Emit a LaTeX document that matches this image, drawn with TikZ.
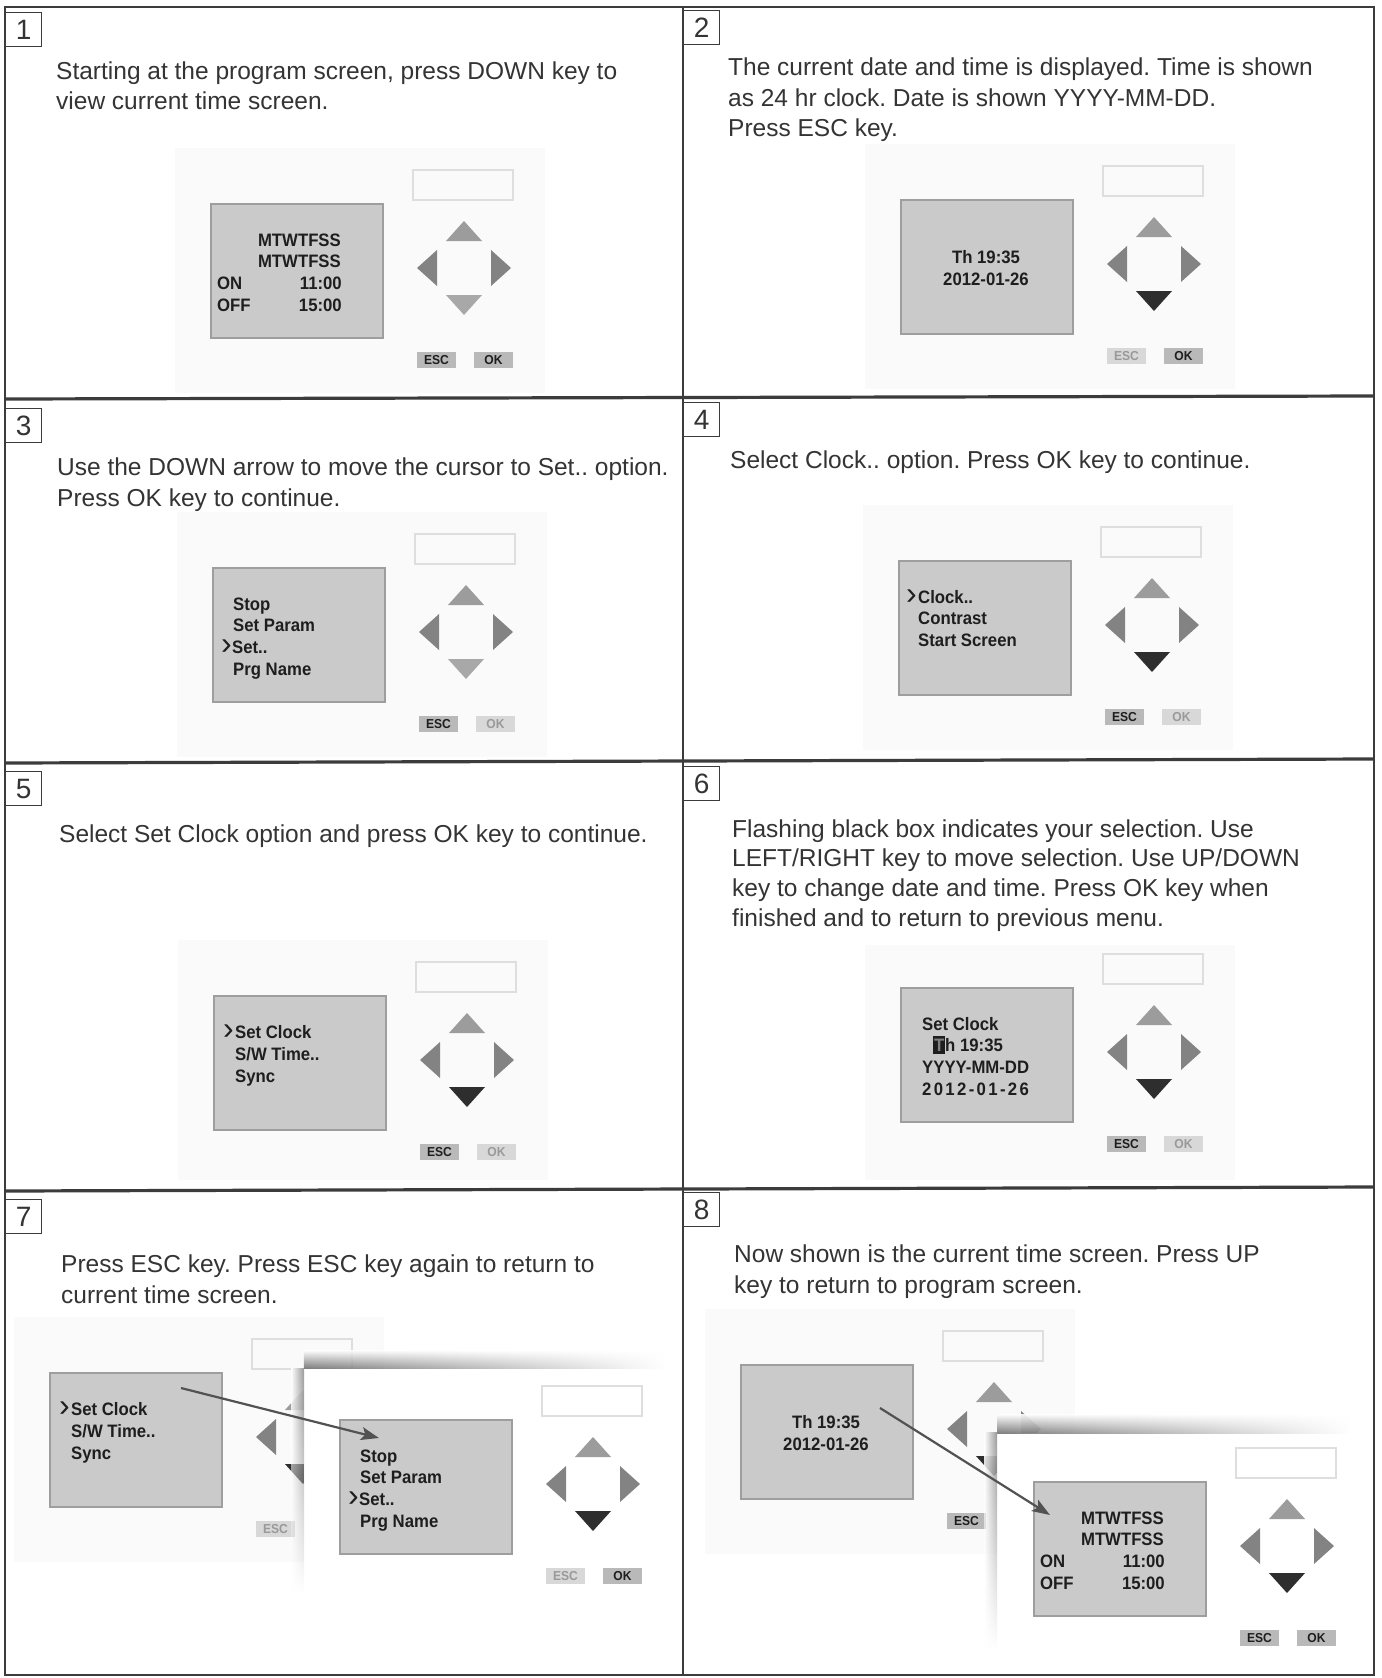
\documentclass[tikz,border=0pt]{standalone}
\usepackage{fontspec}
\setmainfont{Liberation Sans}
\newfontfamily\lcdface[FakeStretch=0.93]{Liberation Sans}
\newfontfamily\lcdspaced[FakeStretch=0.93,LetterSpace=13]{Liberation Sans}
\usetikzlibrary{arrows.meta,fadings}
\frenchspacing

\definecolor{ink}{HTML}{343434}
\definecolor{rule}{HTML}{3C3C3C}
\definecolor{lcdfill}{HTML}{CACACA}
\definecolor{lcdedge}{HTML}{9E9E9E}
\definecolor{lcdink}{HTML}{1E1E1E}
\definecolor{padup}{HTML}{9C9C9C}
\definecolor{padside}{HTML}{838383}
\definecolor{padpale}{HTML}{A8A8A8}
\definecolor{padhot}{HTML}{2E2E2E}
\definecolor{keyfill}{HTML}{B9B9B9}
\definecolor{keypale}{HTML}{D8D8D8}
\definecolor{hazefill}{HTML}{FAFAFA}

\tikzset{
  frame/.style={draw=rule, line width=2.4pt},
  divider/.style={draw=rule, line width=3.2pt},
  numbox/.style={draw=rule, line width=1.3pt, minimum width=36pt, minimum height=34pt,
    inner sep=0pt, anchor=north west, font=\fontsize{28}{28}\selectfont, text=ink},
  caption/.style={anchor=base west, inner sep=0pt, font=\fontsize{24.5}{30}\selectfont, text=ink},
  screen/.style={fill=lcdfill, draw=lcdedge, line width=1.6pt, minimum width=172pt,
    minimum height=134pt, inner sep=0pt, anchor=north west},
  lcdtext/.style={inner sep=0pt, text=lcdink, font={\lcdface\bfseries\fontsize{18}{18}\selectfont}},
  chevron/.style={inner sep=0pt, text=lcdink, anchor=base west, font=\fontsize{32}{32}\selectfont},
  key/.style={minimum width=39pt, minimum height=16pt, inner sep=0pt, fill=keyfill, text=lcdink,
    font={\lcdface\bfseries\fontsize{13}{13}\selectfont}},
  keyon/.style={},
  keyoff/.style={fill=keypale, text=black!40},
  bar/.style={draw=black!13, line width=1.2pt},
  pointer/.style={draw=black!68, line width=2.2pt, -{Stealth[length=18pt,width=13pt,inset=4pt]}},
}

% controller: #1 name, #2/#3 top-left of the display, #4 colour of the down key,
% #5/#6 look of the ESC and OK keys
\newcommand\controller[6]{%
  \begin{scope}[shift={(#2,#3)}]
    \draw[bar] (203,-33) rectangle (303,-3);
    \node[screen] (#1) at (0,0) {};
    \fill[padup] (236,38) -- (272,38) -- (254,18) -- cycle;
    \fill[padside] (227,47) -- (227,83) -- (207,65) -- cycle;
    \fill[padside] (281,47) -- (281,83) -- (301,65) -- cycle;
    \fill[#4] (236,92) -- (272,92) -- (254,112) -- cycle;
    \node[key,#5] (#1-esc) at (226.5,157) {ESC};
    \node[key,#6] (#1-ok) at (283.5,157) {OK};
  \end{scope}}

% program screen with switching days and times
\newcommand\weekscreen[3]{%
  \begin{scope}[shift={(#2,#3)}]
    \node[lcdtext,anchor=base east] (#1d1) at (131,43.5) {MTWTFSS};
    \node[lcdtext,anchor=base east] (#1d2) at (131,64.5) {MTWTFSS};
    \node[lcdtext,anchor=base west] (#1on) at (7,86.5) {ON};
    \node[lcdtext,anchor=base east] (#1ont) at (132,86.5) {11:00};
    \node[lcdtext,anchor=base west] (#1off) at (7,108.5) {OFF};
    \node[lcdtext,anchor=base east] (#1offt) at (132,108.5) {15:00};
  \end{scope}}

% current time screen
\newcommand\clockscreen[3]{%
  \begin{scope}[shift={(#2,#3)}]
    \node[lcdtext,anchor=base] (#1t) at (86,64.5) {Th 19:35};
    \node[lcdtext,anchor=base] (#1d) at (86,86.5) {2012-01-26};
  \end{scope}}

% main menu with the cursor on Set..
\newcommand\mainmenu[3]{%
  \begin{scope}[shift={(#2,#3)}]
    \node[lcdtext,anchor=base west] (#1a) at (21,43.5) {Stop};
    \node[lcdtext,anchor=base west] (#1b) at (21,64.5) {Set Param};
    \node[chevron] (#1c) at (9,87.5) {›};
    \node[lcdtext,anchor=base west] (#1s) at (20,86.5) {Set..};
    \node[lcdtext,anchor=base west] (#1d) at (21,108.5) {Prg Name};
  \end{scope}}

% clock menu with the cursor on Set Clock
\newcommand\clockmenu[3]{%
  \begin{scope}[shift={(#2,#3)}]
    \node[chevron] (#1c) at (10,44.5) {›};
    \node[lcdtext,anchor=base west] (#1a) at (22,43.5) {Set Clock};
    \node[lcdtext,anchor=base west] (#1b) at (22,65.5) {S/W Time..};
    \node[lcdtext,anchor=base west] (#1s) at (22,87.5) {Sync};
  \end{scope}}

\begin{document}
\begin{tikzpicture}[x=1pt,y=-1pt]
\useasboundingbox (0,0) rectangle (1381,1678);
\fill[white] (0,0) rectangle (1381,1678);

% ---------------- step 1
\node[numbox] (n1) at (5,12) {1};
\node[caption] (c1a) at (56,79) {Starting at the program screen, press DOWN key to};
\node[caption] (c1b) at (56,109) {view current time screen.};
\fill[hazefill] (175,148) rectangle (545,393);
\controller{s1}{210}{203}{padpale}{keyon}{keyon}
\weekscreen{s1w}{210}{203}

% ---------------- step 2
\node[numbox] (n2) at (683,10) {2};
\node[caption] (c2a) at (728,75) {The current date and time is displayed. Time is shown};
\node[caption] (c2b) at (728,106) {as 24 hr clock. Date is shown YYYY-MM-DD.};
\node[caption] (c2c) at (728,136) {Press ESC key.};
\fill[hazefill] (865,144) rectangle (1235,389);
\controller{s2}{900}{199}{padhot}{keyoff}{keyon}
\clockscreen{s2c}{900}{199}

% ---------------- step 3
\node[numbox] (n3) at (5,408) {3};
\node[caption] (c3a) at (57,475) {Use the DOWN arrow to move the cursor to Set.. option.};
\node[caption] (c3b) at (57,506) {Press OK key to continue.};
\fill[hazefill] (177,512) rectangle (547,757);
\controller{s3}{212}{567}{padpale}{keyon}{keyoff}
\mainmenu{s3m}{212}{567}

% ---------------- step 4
\node[numbox] (n4) at (683,402) {4};
\node[caption] (c4a) at (730,468) {Select Clock.. option. Press OK key to continue.};
\fill[hazefill] (863,505) rectangle (1233,750);
\controller{s4}{898}{560}{padhot}{keyon}{keyoff}
\begin{scope}[shift={(898,560)}]
  \node[chevron] (s4c) at (8,44.5) {›};
  \node[lcdtext,anchor=base west] (s4a) at (20,43.5) {Clock..};
  \node[lcdtext,anchor=base west] (s4b) at (20,64.5) {Contrast};
  \node[lcdtext,anchor=base west] (s4s) at (20,86.5) {Start Screen};
\end{scope}

% ---------------- step 5
\node[numbox] (n5) at (5,771) {5};
\node[caption] (c5a) at (59,842) {Select Set Clock option and press OK key to continue.};
\fill[hazefill] (178,940) rectangle (548,1180);
\controller{s5}{213}{995}{padhot}{keyon}{keyoff}
\clockmenu{s5m}{213}{995}

% ---------------- step 6
\node[numbox] (n6) at (683,766) {6};
\node[caption] (c6a) at (732,837) {Flashing black box indicates your selection. Use};
\node[caption] (c6b) at (732,866) {LEFT/RIGHT key to move selection. Use UP/DOWN};
\node[caption] (c6c) at (732,896) {key to change date and time. Press OK key when};
\node[caption] (c6d) at (732,926) {finished and to return to previous menu.};
\fill[hazefill] (865,945) rectangle (1235,1180);
\controller{s6}{900}{987}{padhot}{keyon}{keyoff}
\begin{scope}[shift={(900,987)}]
  \node[lcdtext,anchor=base west] (s6a) at (22,43.5) {Set Clock};
  \fill[lcdink] (33,49) rectangle (45,67);
  \node[lcdtext,anchor=base west,text=black!50] (s6t) at (34,64.5) {T};
  \node[lcdtext,anchor=base west] (s6b) at (45,64.5) {h 19:35};
  \node[lcdtext,anchor=base west] (s6c) at (22,86.5) {YYYY-MM-DD};
  \node[lcdtext,anchor=base west,font={\lcdspaced\bfseries\fontsize{18}{18}\selectfont}] (s6d) at (22,108.5) {2012-01-26};
\end{scope}

% ---------------- step 7
\node[numbox] (n7) at (5,1199) {7};
\node[caption] (c7a) at (61,1272) {Press ESC key. Press ESC key again to return to};
\node[caption] (c7b) at (61,1303) {current time screen.};
\fill[hazefill] (14,1317) rectangle (384,1562);
\controller{s7l}{49}{1372}{padhot}{keyoff}{keyon}
\clockmenu{s7lm}{49}{1372}
% front window over the previous screen
\fill[white] (304,1368) rectangle (664,1592);
\shade[top color=white, bottom color=black!50, path fading=east] (304,1350) rectangle (664,1368);
\shade[left color=white, right color=black!40, path fading=south] (291,1368) rectangle (304,1592);
\controller{s7r}{339}{1419}{padhot}{keyoff}{keyon}
\mainmenu{s7rm}{339}{1419}
\coordinate (s7from) at (181,1388);
\coordinate (s7to) at (379,1438);
\draw[pointer] (s7from) -- (s7to);

% ---------------- step 8
\node[numbox] (n8) at (683,1192) {8};
\node[caption] (c8a) at (734,1262) {Now shown is the current time screen. Press UP};
\node[caption] (c8b) at (734,1293) {key to return to program screen.};
\fill[hazefill] (705,1309) rectangle (1075,1554);
\controller{s8l}{740}{1364}{padhot}{keyon}{keyon}
\clockscreen{s8lc}{740}{1364}
% front window over the previous screen
\fill[white] (997,1433) rectangle (1350,1648);
\shade[top color=white, bottom color=black!50, path fading=east] (997,1414) rectangle (1350,1433);
\shade[left color=white, right color=black!40, path fading=south] (984,1433) rectangle (997,1648);
\controller{s8r}{1033}{1481}{padhot}{keyon}{keyon}
\weekscreen{s8rw}{1033}{1481}
\coordinate (s8from) at (880,1408);
\coordinate (s8to) at (1050,1515);
\draw[pointer] (s8from) -- (s8to);

% ---------------- grid
\draw[frame] (5,7) rectangle (1374,1675);
\draw[frame] (683,7) -- (683,1675);
\draw[divider] (5,399) -- (1374,396);
\draw[divider] (5,763) -- (1374,759);
\draw[divider] (5,1191) -- (1374,1187);
\end{tikzpicture}
\end{document}
